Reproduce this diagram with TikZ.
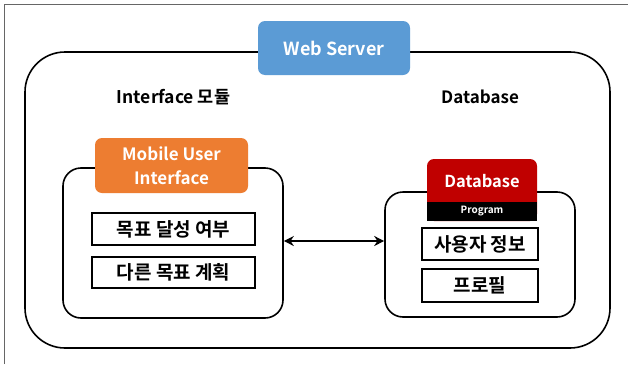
\documentclass[tikz,border=0pt]{standalone}
\usepackage{fontspec}
\setmainfont{Noto Sans CJK KR}[BoldFont=* Bold]
\usetikzlibrary{arrows.meta}
\definecolor{wsblue}{HTML}{5B9BD5}
\definecolor{muiorange}{HTML}{ED7D31}
\definecolor{dbred}{HTML}{C00000}
\begin{document}
\begin{tikzpicture}[x=1pt,y=-1pt,
  frame/.style={draw=black,line width=1.6pt,rounded corners=#1,inner sep=0pt},
  titlebox/.style={fill=#1,rounded corners=7pt,text=white,font=\bfseries\fontsize{17}{22}\selectfont,align=center,inner sep=0pt},
  itembox/.style={draw=black,line width=1.5pt,fill=white,inner sep=0pt,font=\bfseries\fontsize{19}{22}\selectfont},
  grouplabel/.style={font=\bfseries\fontsize{17.5}{20}\selectfont,inner sep=0pt}]
\useasboundingbox (0,0) rectangle (628,364);
\fill[white] (0,0) rectangle (628,364);
% page border
\draw[line width=0.9pt,black!60] (4,364) -- (4,4.5) -- (628,4.5);
% outer frame
\node[frame=40pt,minimum width=585pt,minimum height=296pt] (outer) at (317.5,200) {};
\node[titlebox=wsblue,minimum width=152pt,minimum height=54pt,font=\bfseries\fontsize{18}{22}\selectfont] (ws) at (334,48) {Web Server};
\node[grouplabel] (lblint) at (173.5,97) {Interface 모듈};
\node[grouplabel,font=\bfseries\fontsize{17}{20}\selectfont] (lbldb) at (480,97) {Database};
% left group
\node[frame=18pt,minimum width=220pt,minimum height=150pt] (leftbox) at (173,243) {};
\node[titlebox=muiorange,minimum width=153pt,minimum height=55pt,font=\bfseries\fontsize{17}{24}\selectfont] (mui) at (171.5,165.5) {Mobile User\\Interface};
\node[itembox,minimum width=163pt,minimum height=32pt] (goal) at (173.5,229) {목표 달성 여부};
\node[itembox,minimum width=163pt,minimum height=31pt] (plan) at (173.5,272.5) {다른 목표 계획};
% right group
\node[frame=18pt,minimum width=190pt,minimum height=125pt] (rightbox) at (480,254.5) {};
\fill[dbred,rounded corners=7pt] (427,159) rectangle (537,221);
\node[fill=black,minimum width=110pt,minimum height=19pt,inner sep=0pt,text=white,font=\bfseries\fontsize{10}{12}\selectfont] (prog) at (482,211.5) {Program};
\node[text=white,font=\bfseries\fontsize{16.5}{20}\selectfont,inner sep=0pt] (db) at (482,181.5) {Database};
\node[itembox,minimum width=116pt,minimum height=32pt] (user) at (480,244) {사용자 정보};
\node[itembox,minimum width=116pt,minimum height=33pt] (prof) at (480,285.5) {프로필};
% arrow
\coordinate (arr) at (0,241);
\draw[line width=1.4pt,{Stealth[length=10pt,width=10pt]}-{Stealth[length=10pt,width=10pt]}] (leftbox.east |- arr) -- (rightbox.west |- arr);
\end{tikzpicture}
\end{document}
